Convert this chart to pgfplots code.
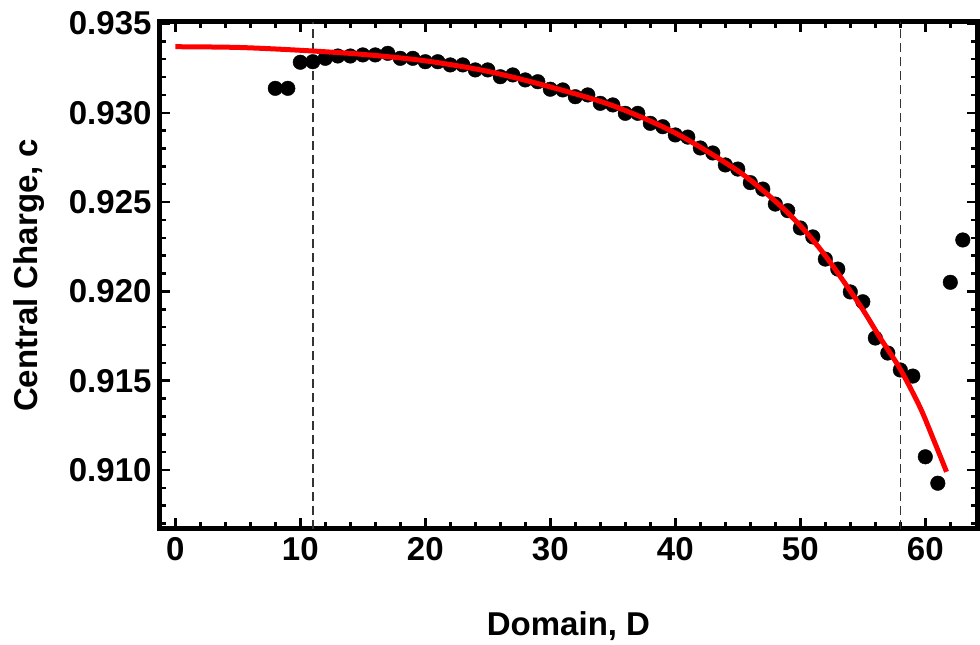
\documentclass[border=0pt]{standalone}
\usepackage{fontspec}
\setmainfont{Liberation Sans}
\usepackage{pgfplots}
\pgfplotsset{compat=1.18}
\definecolor{dashgray}{HTML}{333333}
\begin{document}
\begin{tikzpicture}
\useasboundingbox (-160pt,-116.5pt) rectangle (820pt,528.5pt);
\begin{axis}[
  at={(0,0)}, anchor=south west,
  scale only axis, width=817pt, height=506.5pt,
  xmin=-1.224, xmax=64.136, ymin=0.906725, ymax=0.935084,
  xtick={0,10,20,30,40,50,60},
  minor xtick={2,4,6,8,12,14,16,18,22,24,26,28,32,34,36,38,42,44,46,48,52,54,56,58,62},
  ytick={0.910,0.915,0.920,0.925,0.930,0.935},
  minor ytick={0.907,0.908,0.909,0.911,0.912,0.913,0.914,0.916,0.917,0.918,0.919,0.921,0.922,0.923,0.924,0.926,0.927,0.928,0.929,0.931,0.932,0.933,0.934},
  scaled y ticks=false,
  yticklabel style={xshift=-5pt, /pgf/number format/fixed, /pgf/number format/fixed zerofill, /pgf/number format/precision=3},
  /pgf/number format/assume math mode=true,
  tick label style={font=\fontsize{33}{36}\selectfont\bfseries},
  label style={font=\fontsize{33}{36}\selectfont\bfseries},
  axis line style={line width=5pt},
  every tick/.style={black, line width=2.5pt},
  major tick length=10pt, minor tick length=6.5pt,
  xlabel={Domain, D}, ylabel={Central Charge, c},
  xlabel style={at={(axis description cs:0.5,-0.2122)}, anchor=base},
  ylabel style={at={(axis description cs:-0.1494,0.5)}, anchor=base},
  xticklabel style={yshift=-5pt},
  clip=false, clip mode=individual,
]
\addplot[dashgray, line width=1.5pt, dash pattern=on 9pt off 5pt] coordinates {(11,0.906725) (11,0.935084)};
\addplot[dashgray, line width=1.5pt, dash pattern=on 9pt off 5pt] coordinates {(58,0.906725) (58,0.935084)};
\addplot[only marks, mark=*, mark size=7.3pt, black] table {
x y
8 0.93137
9 0.93137
10 0.93283
11 0.93286
12 0.93305
13 0.93318
14 0.93318
15 0.93324
16 0.93324
17 0.93333
18 0.93305
19 0.93305
20 0.93286
21 0.93286
22 0.93268
23 0.93268
24 0.93240
25 0.93240
26 0.93202
27 0.93212
28 0.93184
29 0.93174
30 0.93132
31 0.93128
32 0.93090
33 0.93100
34 0.93053
35 0.93044
36 0.92997
37 0.92997
38 0.92941
39 0.92922
40 0.92876
41 0.92864
42 0.92803
43 0.92775
44 0.92708
45 0.92685
46 0.92609
47 0.92573
48 0.92489
49 0.92452
50 0.92355
51 0.92305
52 0.92181
53 0.92125
54 0.91997
55 0.91942
56 0.91739
57 0.91655
58 0.91560
59 0.91526
60 0.91074
61 0.90926
62 0.92051
63 0.92288
};
\addplot[red, line width=5pt, smooth] coordinates {
(0,0.93370) (5,0.93366) (10,0.93350) (15,0.93327) (20,0.93291) (25,0.93232)
(30,0.93145) (35,0.93040) (40,0.92887) (45,0.92675) (48,0.92505) (50,0.92368)
(52,0.92200) (54.76,0.91924) (56.36,0.91743) (57.96,0.91569) (59.56,0.91354)
(60.62,0.91177) (61.7,0.90990)
};
\end{axis}
\end{tikzpicture}
\end{document}
